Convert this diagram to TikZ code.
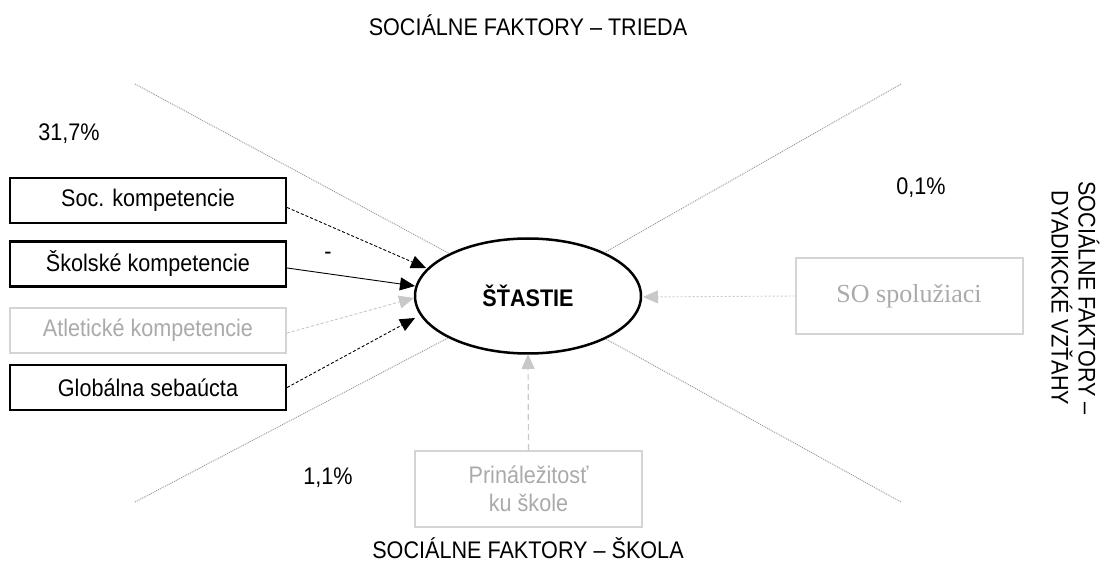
\documentclass[tikz,border=0pt]{standalone}
\usepackage{fontspec}
\setmainfont[FakeStretch=0.9]{Liberation Sans}
\newfontfamily\serifface{Liberation Serif}
\usetikzlibrary{shapes.geometric,arrows.meta}
\definecolor{boxgray}{RGB}{212,212,212}
\definecolor{txtgray}{RGB}{170,170,170}
\definecolor{tipgray}{RGB}{200,200,200}
\definecolor{xgray}{RGB}{150,150,150}
\begin{document}
\begin{tikzpicture}[x=1pt,y=-1pt,
  lbl/.style={font=\fontsize{24}{27}\selectfont, inner sep=0pt},
  varbox/.style={draw, line width=2.2pt, minimum width=276pt, minimum height=45pt,
    font=\fontsize{24}{27}\selectfont, inner sep=0pt},
  weakbox/.style={varbox, draw=boxgray, line width=2pt, text=txtgray},
  bigbox/.style={draw=boxgray, line width=2pt, minimum width=227pt, minimum height=76pt,
    inner sep=0pt, text=txtgray, align=center},
  xline/.style={draw=xgray, line width=0.9pt, dash pattern=on 1pt off 1pt},
  tip/.style={-{Triangle[length=15pt,width=13pt]}},
  sigdash/.style={tip, line width=0.9pt, dash pattern=on 3pt off 2pt},
  sigsolid/.style={tip, line width=0.9pt},
  weakarrow/.style={tip, draw=tipgray, line width=0.9pt, dash pattern=on 3pt off 2pt},
]
\useasboundingbox (0,0) rectangle (1111,564);

% central outcome
\node[ellipse, draw, line width=2.5pt, fill=white, minimum width=226pt, minimum height=115pt,
  inner sep=0pt, font=\fontsize{24}{27}\selectfont\bfseries] (e) at (528,296) {ŠŤASTIE};

% sector separators
\coordinate (ul) at (135,84);
\coordinate (ur) at (901,84);
\coordinate (lr) at (901,502);
\coordinate (ll) at (135,502);
\foreach \c in {ul,ur,lr,ll} \draw[xline] (\c) -- (e);

% sector titles
\node[lbl] (tTrieda) at (528,25) {SOCIÁLNE FAKTORY – TRIEDA};
\node[lbl] (tSkola) at (528,548) {SOCIÁLNE FAKTORY – ŠKOLA};
\node[lbl, rotate=-90, align=center] (tDyad) at (1075.5,298)
  {SOCIÁLNE FAKTORY –\\DYADIKCKÉ VZŤAHY};

% explained variance
\node[lbl] (p1) at (69,134) {31,7\%};
\node[lbl] (p2) at (921,188) {0,1\%};
\node[lbl] (p3) at (328,478) {1,1\%};

% individual predictors
\node[varbox] (soc) at (148,200.5) {Soc. kompetencie};
\node[varbox] (skol) at (148,264) {Školské kompetencie};
\node[weakbox] (atl) at (148,330) {Atletické kompetencie};
\node[varbox] (glob) at (148,387.5) {Globálna sebaúcta};

% social predictors
\node[bigbox, font=\fontsize{26}{30}\selectfont\serifface] (spol) at (909,296) {SO spolužiaci};
\node[bigbox, font=\fontsize{24}{28}\selectfont] (prin) at (528.5,489) {Prináležitosť\\ku škole};

% arrow targets
\coordinate (t1) at (426,268);
\coordinate (t2) at (415,286);
\coordinate (t3) at (414,298);
\coordinate (t4) at (415,318);
\coordinate (t5) at (643,297);
\coordinate (t6) at (528,354);

\draw[sigdash] ([yshift=-7pt]soc.east) -- (t1);
\draw[sigsolid] ([yshift=-4pt]skol.east) -- (t2);
\node[lbl] (minus) at (328,256) {-};
\draw[weakarrow] ([yshift=-3pt]atl.east) -- (t3);
\draw[sigdash] (glob.east) -- (t4);
\draw[tip, draw=tipgray, line width=0.9pt, dash pattern=on 2pt off 2pt] (spol.west) -- (t5);
\draw[tip, draw=tipgray, line width=1.2pt, dash pattern=on 6pt off 4pt] (prin.north) -- (t6);
\end{tikzpicture}
\end{document}
